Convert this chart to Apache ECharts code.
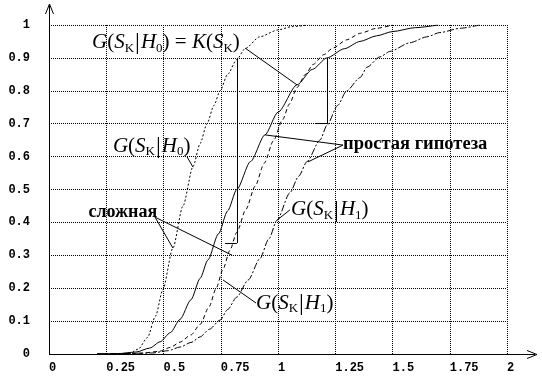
<!DOCTYPE html>
<html><head><meta charset="utf-8">
<script src="https://cdn.jsdelivr.net/npm/echarts@6/dist/echarts.min.js"></script>
<style>html,body{margin:0;padding:0;background:#fff}#c{width:542px;height:377px}</style>
</head><body><div id="c"></div>
<script>
// Tick labels
const xTickLabels = ['0','0.25','0.5','0.75','1','1.25','1.5','1.75','2'];
const yTickLabels = ['0','0.1','0.2','0.3','0.4','0.5','0.6','0.7','0.8','0.9','1'];

// G(S|H0), complex hypothesis (dotted)
const h0ComplexX = [0.21,0.35,0.39,0.43,0.465,0.497,0.541,0.585,0.629,0.66,0.69,0.72,0.747,0.78,0.82,0.856,0.92,1.0,1.06,1.13];
const h0ComplexY = [0,0,0.015,0.05,0.115,0.195,0.322,0.45,0.57,0.64,0.70,0.755,0.80,0.85,0.895,0.928,0.964,0.985,0.995,1.0];

// K(S) = G(S|H0), simple hypothesis (solid)
const h0SimpleX = [0.21,0.30,0.38,0.44,0.485,0.53,0.572,0.62,0.66,0.694,0.74,0.78,0.82,0.88,0.943,1.0,1.083,1.15,1.214,1.29,1.358,1.43,1.5,1.6,1.7];
const h0SimpleY = [0,0.001,0.006,0.018,0.037,0.065,0.105,0.165,0.23,0.286,0.365,0.435,0.50,0.585,0.666,0.735,0.818,0.865,0.90,0.928,0.95,0.967,0.98,0.992,1.0];

// G(S|H1), complex hypothesis (dashed)
const h1ComplexX = [0.21,0.40,0.48,0.53,0.572,0.62,0.66,0.70,0.73,0.76,0.79,0.82,0.86,0.90,0.94,0.98,1.02,1.05,1.083,1.12,1.153,1.20,1.24,1.30,1.36,1.43,1.5];
const h1ComplexY = [0,0.002,0.008,0.02,0.036,0.058,0.09,0.145,0.2,0.258,0.315,0.37,0.44,0.51,0.58,0.648,0.712,0.76,0.81,0.85,0.88,0.91,0.93,0.955,0.975,0.99,1.0];

// G(S|H1), simple hypothesis (dash-dot)
const h1SimpleX = [0.21,0.45,0.52,0.572,0.62,0.66,0.70,0.747,0.78,0.82,0.87,0.921,0.96,0.996,1.052,1.09,1.127,1.183,1.214,1.26,1.30,1.358,1.389,1.445,1.49,1.576,1.65,1.707,1.795,1.88];
const h1SimpleY = [0,0.003,0.01,0.021,0.035,0.052,0.075,0.103,0.135,0.173,0.225,0.29,0.35,0.407,0.49,0.54,0.585,0.65,0.695,0.755,0.80,0.84,0.872,0.903,0.92,0.946,0.964,0.977,0.99,1.0];

// annotation segments in data coordinates [x1,y1,x2,y2]
const annotSegments = [
  [0.82,0.90,0.82,0.337], [0.769,0.337,0.82,0.337],
  [1.214,0.90,1.214,0.70], [1.162,0.70,1.214,0.70],
  [0.856,0.930,1.083,0.818],
  [0.603,0.599,0.629,0.568],
  [0.463,0.416,0.541,0.322], [0.463,0.416,0.80,0.30],
  [1.284,0.635,0.943,0.666], [1.284,0.635,1.131,0.584],
  [1.052,0.438,0.996,0.407],
  [0.904,0.155,0.76,0.225]
];

function zip(xs, ys){ return xs.map((x,i)=>[x, ys[i]]); }

const chart = echarts.init(document.getElementById('c'), null, {renderer:'canvas'});
const serifFam = '"Liberation Serif","Times New Roman",serif';
const monoFam = '"Liberation Mono","Courier New",monospace';

function lineSeries(name, xs, ys, dash){
  return {
    name, type:'line', data: zip(xs,ys), showSymbol:false, symbol:'none',
    smooth:0.25, smoothMonotone:'x', animation:false, silent:true,
    lineStyle:{color:'#000', width:1, type: dash, cap:'butt'}
  };
}

const option = {
  backgroundColor:'#fff',
  animation:false,
  grid:{left:49, right:35, top:25, bottom:23, containLabel:false, outerBoundsMode:'none'},
  xAxis:{
    type:'value', min:0, max:2, interval:0.25,
    axisLine:{show:false}, axisTick:{show:false},
    splitLine:{show:true, lineStyle:{color:'#000', width:1, type:[1,1]}},
    axisLabel:{
      color:'#000', fontFamily:monoFam, fontWeight:'bold', fontSize:12, align:'left', margin:8,
      formatter:(v)=>{ const i=Math.round(v/0.25); return xTickLabels[i]||''; }
    }
  },
  yAxis:{
    type:'value', min:0, max:1, interval:0.1,
    axisLine:{show:false}, axisTick:{show:false},
    splitLine:{show:true, lineStyle:{color:'#000', width:1, type:[1,1]}},
    axisLabel:{
      color:'#000', fontFamily:monoFam, fontWeight:'bold', fontSize:12, margin:19, padding:[7,0,0,0],
      formatter:(v)=>{ const i=Math.round(v/0.1); return yTickLabels[i]||''; }
    }
  },
  series:[
    lineSeries('H0c', h0ComplexX, h0ComplexY, [2,2]),
    lineSeries('H0s', h0SimpleX, h0SimpleY, 'solid'),
    lineSeries('H1c', h1ComplexX, h1ComplexY, [4,3]),
    lineSeries('H1s', h1SimpleX, h1SimpleY, [7,2,2,2]),
    {
      type:'line', data:[], silent:true, animation:false,
      markLine:{
        silent:true, animation:false, symbol:['none','none'], label:{show:false},
        lineStyle:{color:'#000', width:1, type:'solid'},
        emphasis:{disabled:true},
        data: annotSegments.map(s=>[{coord:[s[0],s[1]]},{coord:[s[2],s[3]]}])
      }
    }
  ]
};
chart.setOption(option);

function P(x,y){ return chart.convertToPixel({gridIndex:0},[x,y]); }
const o = P(0,0), yTop = P(0,1), xEnd = P(2,0);
const axTop = yTop[1]-20, axRight = xEnd[0]+28;

const mathRich = {
  i:{fontFamily:serifFam, fontStyle:'italic', fontSize:21, color:'#000'},
  r:{fontFamily:serifFam, fontSize:21, color:'#000'},
  s:{fontFamily:serifFam, fontSize:13, color:'#000', padding:[12,0,0,0]},
  b:{fontFamily:serifFam, fontSize:24, color:'#000', padding:[2,1,0,1]}
};
function gLabel(h){ return '{i|G}{r|(}{i|S}{s|K}{b||}{i|H}{s|'+h+'}{r|)}'; }

function textAt(x,y,text,style){
  const p = P(x,y);
  return {type:'text', x:p[0], y:p[1], z:10, silent:true, style:Object.assign({text, fill:'#000', textAlign:'left', textVerticalAlign:'middle'}, style)};
}

chart.setOption({
  graphic:[
    {type:'line', silent:true, z:10, shape:{x1:o[0]+0.5, y1:o[1], x2:o[0]+0.5, y2:axTop}, style:{stroke:'#000', lineWidth:1}},
    {type:'polyline', silent:true, z:10, shape:{points:[[o[0]-3.5,axTop+9],[o[0]+0.5,axTop-1],[o[0]+4.5,axTop+9]]}, style:{stroke:'#000', lineWidth:1, fill:null}},
    {type:'line', silent:true, z:10, shape:{x1:o[0], y1:o[1]+0.5, x2:axRight, y2:o[1]+0.5}, style:{stroke:'#000', lineWidth:1}},
    {type:'polyline', silent:true, z:10, shape:{points:[[axRight-8,o[1]-3.5],[axRight+2,o[1]+0.5],[axRight-8,o[1]+4.5]]}, style:{stroke:'#000', lineWidth:1, fill:null}},
    textAt(0.188,0.948, gLabel('0')+'{r| = }{i|K}{r|(}{i|S}{s|K}{r|)}', {rich:mathRich}),
    textAt(0.279,0.632, gLabel('0'), {rich:mathRich}),
    textAt(1.057,0.438, gLabel('1'), {rich:mathRich}),
    textAt(0.904,0.155, gLabel('1'), {rich:mathRich}),
    textAt(0.172,0.432, 'сложная', {font:'bold 18px '+serifFam}),
    textAt(1.284,0.638, 'простая гипотеза', {font:'bold 18.5px '+serifFam})
  ]
});
</script></body></html>
